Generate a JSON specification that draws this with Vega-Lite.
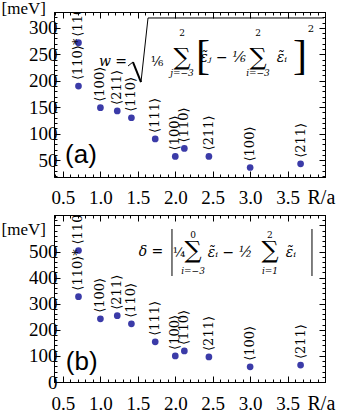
{
  "$schema": "https://vega.github.io/schema/vega-lite/v6.json",
  "padding": {"left": 0, "top": -2, "right": 0, "bottom": 0},
  "background": "white",
  "spacing": -6,
  "datasets": {
    "a": [
      {"R": 0.707, "v": 272, "dir": "⟨110⟩"},
      {"R": 0.707, "v": 190, "dir": "⟨110⟩*"},
      {"R": 1.0, "v": 149, "dir": "⟨100⟩"},
      {"R": 1.225, "v": 143, "dir": "⟨211⟩"},
      {"R": 1.414, "v": 130, "dir": "⟨110⟩"},
      {"R": 1.732, "v": 90, "dir": "⟨111⟩"},
      {"R": 2.0, "v": 57, "dir": "⟨100⟩"},
      {"R": 2.121, "v": 72, "dir": "⟨110⟩"},
      {"R": 2.449, "v": 57, "dir": "⟨211⟩"},
      {"R": 3.0, "v": 36, "dir": "⟨100⟩"},
      {"R": 3.674, "v": 43, "dir": "⟨211⟩"}
    ],
    "b": [
      {"R": 0.707, "v": 504, "dir": "⟨110⟩"},
      {"R": 0.707, "v": 327, "dir": "⟨110⟩*"},
      {"R": 1.0, "v": 242, "dir": "⟨100⟩"},
      {"R": 1.225, "v": 254, "dir": "⟨211⟩"},
      {"R": 1.414, "v": 223, "dir": "⟨110⟩"},
      {"R": 1.732, "v": 154, "dir": "⟨111⟩"},
      {"R": 2.0, "v": 100, "dir": "⟨100⟩"},
      {"R": 2.121, "v": 119, "dir": "⟨110⟩"},
      {"R": 2.449, "v": 96, "dir": "⟨211⟩"},
      {"R": 3.0, "v": 58, "dir": "⟨100⟩"},
      {"R": 3.674, "v": 65, "dir": "⟨211⟩"}
    ],
    "note": [{}]
  },
  "vconcat": [
    {
      "width": 271,
      "height": 165,
      "resolve": {"axis": {"x": "independent", "y": "independent"}},
      "layer": [
        {
          "data": {"name": "a"},
          "mark": {"type": "circle", "size": 45, "opacity": 1, "color": "#3b3ba8"},
          "encoding": {
            "x": {"field": "R", "type": "quantitative", "scale": {"domain": [0.38, 4.0], "nice": false, "zero": false},
              "axis": {"orient": "bottom", "values": [0.4,0.5,0.6,0.7,0.8,0.9,1.0,1.1,1.2,1.3,1.4,1.5,1.6,1.7,1.8,1.9,2.0,2.1,2.2,2.3,2.4,2.5,2.6,2.7,2.8,2.9,3.0,3.1,3.2,3.3,3.4,3.5,3.6,3.7,3.8,3.9,4.0],
                "labelExpr": "abs(datum.value*2 - round(datum.value*2)) < 0.01 && datum.value < 3.95 ? format(datum.value, '.1f') : ''",
                "tickSize": {"condition": {"test": "abs(datum.value*2 - round(datum.value*2)) < 0.01", "value": -6}, "value": -3},
                "labelPadding": 17, "labelOverlap": false, "labelFlush": false, "grid": false,
                "labelFont": "Liberation Serif", "labelFontSize": 19, "labelColor": "black",
                "domainColor": "black", "tickColor": "black",
                "title": "R/a", "titleX": 253, "titleY": 20, "titleAlign": "left", "titleBaseline": "middle", "titleAngle": 0,
                "titleFont": "Liberation Serif", "titleFontSize": 20, "titleFontWeight": "normal", "titleColor": "black"}},
            "y": {"field": "v", "type": "quantitative", "scale": {"domain": [18, 330], "nice": false, "zero": false},
              "axis": {"orient": "left", "values": [20,30,40,50,60,70,80,90,100,110,120,130,140,150,160,170,180,190,200,210,220,230,240,250,260,270,280,290,300,310,320,330],
                "labelExpr": "datum.value % 50 === 0 ? datum.label : ''",
                "tickSize": {"condition": {"test": "datum.value % 50 === 0", "value": -6}, "value": -3},
                "labelPadding": 3, "labelOverlap": false, "labelFlush": false, "grid": false,
                "labelFont": "Liberation Serif", "labelFontSize": 19, "labelColor": "black", "labelBaseline": "middle",
                "domainColor": "black", "tickColor": "black",
                "title": "[meV]", "titleX": -53, "titleY": -4, "titleAlign": "left", "titleBaseline": "middle", "titleAngle": 0,
                "titleFont": "Liberation Serif", "titleFontSize": 17, "titleFontWeight": "normal", "titleColor": "black"}}
          }
        },
        {
          "data": {"name": "a"},
          "mark": {"type": "text", "angle": 270, "align": "left", "baseline": "middle", "dx": 6, "fontStyle": "normal", "fontSize": 13, "clip": true},
          "encoding": {
            "x": {"field": "R", "type": "quantitative",
              "axis": {"orient": "top", "values": [0.4,0.5,0.6,0.7,0.8,0.9,1.0,1.1,1.2,1.3,1.4,1.5,1.6,1.7,1.8,1.9,2.0,2.1,2.2,2.3,2.4,2.5,2.6,2.7,2.8,2.9,3.0,3.1,3.2,3.3,3.4,3.5,3.6,3.7,3.8,3.9,4.0],
                "labels": false, "title": null, "grid": false, "domainColor": "black", "tickColor": "black",
                "tickSize": {"condition": {"test": "abs(datum.value*2 - round(datum.value*2)) < 0.01", "value": -6}, "value": -3}}},
            "y": {"field": "v", "type": "quantitative",
              "axis": {"orient": "right", "values": [20,30,40,50,60,70,80,90,100,110,120,130,140,150,160,170,180,190,200,210,220,230,240,250,260,270,280,290,300,310,320,330],
                "labels": false, "title": null, "grid": false, "domainColor": "black", "tickColor": "black",
                "tickSize": {"condition": {"test": "datum.value % 50 === 0", "value": -6}, "value": -3}}},
            "text": {"field": "dir", "type": "nominal"}
          }
        },
        {"data": {"name": "note"}, "mark": {"type": "text", "font": "Liberation Sans", "fontStyle": "normal", "fontSize": 26},
          "encoding": {"x": {"datum": 0.74, "type": "quantitative", "axis": null}, "y": {"datum": 59, "type": "quantitative", "axis": null}, "text": {"value": "(a)"}}},
        {"data": {"name": "note"}, "mark": {"type": "text", "fontSize": 14},
          "encoding": {"x": {"datum": 1.168, "type": "quantitative", "axis": null}, "y": {"datum": 235.4, "type": "quantitative", "axis": null}, "text": {"value": "w ="}}},
        {"data": {"name": "note"}, "mark": {"type": "rule", "strokeWidth": 1},
          "encoding": {"x": {"datum": 1.369, "type": "quantitative", "axis": null}, "y": {"datum": 227.9, "type": "quantitative", "axis": null}, "x2": {"datum": 1.435}, "y2": {"datum": 235.4}}},
        {"data": {"name": "note"}, "mark": {"type": "rule", "strokeWidth": 2},
          "encoding": {"x": {"datum": 1.435, "type": "quantitative", "axis": null}, "y": {"datum": 235.4, "type": "quantitative", "axis": null}, "x2": {"datum": 1.542}, "y2": {"datum": 197.6}}},
        {"data": {"name": "note"}, "mark": {"type": "rule", "strokeWidth": 1},
          "encoding": {"x": {"datum": 1.542, "type": "quantitative", "axis": null}, "y": {"datum": 197.6, "type": "quantitative", "axis": null}, "x2": {"datum": 1.636}, "y2": {"datum": 318.7}}},
        {"data": {"name": "note"}, "mark": {"type": "rule", "strokeWidth": 1},
          "encoding": {"x": {"datum": 1.636, "type": "quantitative", "axis": null}, "y": {"datum": 318.7, "type": "quantitative", "axis": null}, "x2": {"datum": 3.987}, "y2": {"datum": 318.7}}},
        {"data": {"name": "note"}, "mark": {"type": "text", "fontSize": 13, "fontStyle": "normal"},
          "encoding": {"x": {"datum": 1.756, "type": "quantitative", "axis": null}, "y": {"datum": 235.4, "type": "quantitative", "axis": null}, "text": {"value": "⅙"}}},
        {"data": {"name": "note"}, "mark": {"type": "text", "fontSize": 24, "fontStyle": "normal"},
          "encoding": {"x": {"datum": 2.09, "type": "quantitative", "axis": null}, "y": {"datum": 243, "type": "quantitative", "axis": null}, "text": {"value": "∑"}}},
        {"data": {"name": "note"}, "mark": {"type": "text", "fontSize": 9, "fontStyle": "normal"},
          "encoding": {"x": {"datum": 2.09, "type": "quantitative", "axis": null}, "y": {"datum": 290.3, "type": "quantitative", "axis": null}, "text": {"value": "2"}}},
        {"data": {"name": "note"}, "mark": {"type": "text", "fontSize": 9},
          "encoding": {"x": {"datum": 2.09, "type": "quantitative", "axis": null}, "y": {"datum": 214.6, "type": "quantitative", "axis": null}, "text": {"value": "j=−3"}}},
        {"data": {"name": "note"}, "mark": {"type": "text", "fontSize": 42, "fontStyle": "normal", "font": "Liberation Serif"},
          "encoding": {"x": {"datum": 2.37, "type": "quantitative", "axis": null}, "y": {"datum": 246.8, "type": "quantitative", "axis": null}, "text": {"value": "["}}},
        {"data": {"name": "note"}, "mark": {"type": "text", "fontSize": 14},
          "encoding": {"x": {"datum": 2.638, "type": "quantitative", "axis": null}, "y": {"datum": 243, "type": "quantitative", "axis": null}, "text": {"value": "ε̃ⱼ − ⅙"}}},
        {"data": {"name": "note"}, "mark": {"type": "text", "fontSize": 24, "fontStyle": "normal"},
          "encoding": {"x": {"datum": 3.105, "type": "quantitative", "axis": null}, "y": {"datum": 243, "type": "quantitative", "axis": null}, "text": {"value": "∑"}}},
        {"data": {"name": "note"}, "mark": {"type": "text", "fontSize": 9, "fontStyle": "normal"},
          "encoding": {"x": {"datum": 3.105, "type": "quantitative", "axis": null}, "y": {"datum": 290.3, "type": "quantitative", "axis": null}, "text": {"value": "2"}}},
        {"data": {"name": "note"}, "mark": {"type": "text", "fontSize": 9},
          "encoding": {"x": {"datum": 3.105, "type": "quantitative", "axis": null}, "y": {"datum": 214.6, "type": "quantitative", "axis": null}, "text": {"value": "i=−3"}}},
        {"data": {"name": "note"}, "mark": {"type": "text", "fontSize": 14},
          "encoding": {"x": {"datum": 3.426, "type": "quantitative", "axis": null}, "y": {"datum": 243, "type": "quantitative", "axis": null}, "text": {"value": "ε̃ᵢ"}}},
        {"data": {"name": "note"}, "mark": {"type": "text", "fontSize": 42, "fontStyle": "normal", "font": "Liberation Serif"},
          "encoding": {"x": {"datum": 3.666, "type": "quantitative", "axis": null}, "y": {"datum": 246.8, "type": "quantitative", "axis": null}, "text": {"value": "]"}}},
        {"data": {"name": "note"}, "mark": {"type": "text", "fontSize": 10, "fontStyle": "normal"},
          "encoding": {"x": {"datum": 3.813, "type": "quantitative", "axis": null}, "y": {"datum": 297.9, "type": "quantitative", "axis": null}, "text": {"value": "2"}}}
      ]
    },
    {
      "width": 271,
      "height": 167,
      "resolve": {"axis": {"x": "independent", "y": "independent"}},
      "layer": [
        {
          "data": {"name": "b"},
          "mark": {"type": "circle", "size": 45, "opacity": 1, "color": "#3b3ba8"},
          "encoding": {
            "x": {"field": "R", "type": "quantitative", "scale": {"domain": [0.38, 4.0], "nice": false, "zero": false},
              "axis": {"orient": "bottom", "values": [0.4,0.5,0.6,0.7,0.8,0.9,1.0,1.1,1.2,1.3,1.4,1.5,1.6,1.7,1.8,1.9,2.0,2.1,2.2,2.3,2.4,2.5,2.6,2.7,2.8,2.9,3.0,3.1,3.2,3.3,3.4,3.5,3.6,3.7,3.8,3.9,4.0],
                "labelExpr": "abs(datum.value*2 - round(datum.value*2)) < 0.01 && datum.value < 3.95 ? format(datum.value, '.1f') : ''",
                "tickSize": {"condition": {"test": "abs(datum.value*2 - round(datum.value*2)) < 0.01", "value": -6}, "value": -3},
                "labelPadding": 18, "labelOverlap": false, "labelFlush": false, "grid": false,
                "labelFont": "Liberation Serif", "labelFontSize": 19, "labelColor": "black",
                "domainColor": "black", "tickColor": "black",
                "title": "R/a", "titleX": 253, "titleY": 21, "titleAlign": "left", "titleBaseline": "middle", "titleAngle": 0,
                "titleFont": "Liberation Serif", "titleFontSize": 20, "titleFontWeight": "normal", "titleColor": "black"}},
            "y": {"field": "v", "type": "quantitative", "scale": {"domain": [0, 640], "nice": false, "zero": false},
              "axis": {"orient": "left", "values": [0,20,40,60,80,100,120,140,160,180,200,220,240,260,280,300,320,340,360,380,400,420,440,460,480,500,520,540,560,580,600,620,640],
                "labelExpr": "datum.value % 100 === 0 && datum.value <= 500 ? datum.label : ''",
                "tickSize": {"condition": {"test": "datum.value % 100 === 0", "value": -6}, "value": -3},
                "labelPadding": 3, "labelOverlap": false, "labelFlush": false, "grid": false,
                "labelFont": "Liberation Serif", "labelFontSize": 19, "labelColor": "black", "labelBaseline": "middle",
                "domainColor": "black", "tickColor": "black",
                "title": "[meV]", "titleX": -53, "titleY": 14, "titleAlign": "left", "titleBaseline": "middle", "titleAngle": 0,
                "titleFont": "Liberation Serif", "titleFontSize": 17, "titleFontWeight": "normal", "titleColor": "black"}}
          }
        },
        {
          "data": {"name": "b"},
          "mark": {"type": "text", "angle": 270, "align": "left", "baseline": "middle", "dx": 6, "fontStyle": "normal", "fontSize": 13, "clip": true},
          "encoding": {
            "x": {"field": "R", "type": "quantitative",
              "axis": {"orient": "top", "values": [0.4,0.5,0.6,0.7,0.8,0.9,1.0,1.1,1.2,1.3,1.4,1.5,1.6,1.7,1.8,1.9,2.0,2.1,2.2,2.3,2.4,2.5,2.6,2.7,2.8,2.9,3.0,3.1,3.2,3.3,3.4,3.5,3.6,3.7,3.8,3.9,4.0],
                "labels": false, "title": null, "grid": false, "domainColor": "black", "tickColor": "black",
                "tickSize": {"condition": {"test": "abs(datum.value*2 - round(datum.value*2)) < 0.01", "value": -6}, "value": -3}}},
            "y": {"field": "v", "type": "quantitative",
              "axis": {"orient": "right", "values": [0,20,40,60,80,100,120,140,160,180,200,220,240,260,280,300,320,340,360,380,400,420,440,460,480,500,520,540,560,580,600,620,640],
                "labels": false, "title": null, "grid": false, "domainColor": "black", "tickColor": "black",
                "tickSize": {"condition": {"test": "datum.value % 100 === 0", "value": -6}, "value": -3}}},
            "text": {"field": "dir", "type": "nominal"}
          }
        },
        {"data": {"name": "note"}, "mark": {"type": "text", "font": "Liberation Sans", "fontStyle": "normal", "fontSize": 26},
          "encoding": {"x": {"datum": 0.75, "type": "quantitative", "axis": null}, "y": {"datum": 77, "type": "quantitative", "axis": null}, "text": {"value": "(b)"}}},
        {"data": {"name": "note"}, "mark": {"type": "text", "fontSize": 14},
          "encoding": {"x": {"datum": 1.676, "type": "quantitative", "axis": null}, "y": {"datum": 498.2, "type": "quantitative", "axis": null}, "text": {"value": "δ ="}}},
        {"data": {"name": "note"}, "mark": {"type": "rule", "strokeWidth": 1},
          "encoding": {"x": {"datum": 1.956, "type": "quantitative", "axis": null}, "y": {"datum": 586.3, "type": "quantitative", "axis": null}, "y2": {"datum": 406.2}}},
        {"data": {"name": "note"}, "mark": {"type": "rule", "strokeWidth": 1},
          "encoding": {"x": {"datum": 3.826, "type": "quantitative", "axis": null}, "y": {"datum": 586.3, "type": "quantitative", "axis": null}, "y2": {"datum": 406.2}}},
        {"data": {"name": "note"}, "mark": {"type": "text", "fontSize": 13, "fontStyle": "normal"},
          "encoding": {"x": {"datum": 2.05, "type": "quantitative", "axis": null}, "y": {"datum": 494.4, "type": "quantitative", "axis": null}, "text": {"value": "¼"}}},
        {"data": {"name": "note"}, "mark": {"type": "text", "fontSize": 24, "fontStyle": "normal"},
          "encoding": {"x": {"datum": 2.237, "type": "quantitative", "axis": null}, "y": {"datum": 502, "type": "quantitative", "axis": null}, "text": {"value": "∑"}}},
        {"data": {"name": "note"}, "mark": {"type": "text", "fontSize": 9, "fontStyle": "normal"},
          "encoding": {"x": {"datum": 2.237, "type": "quantitative", "axis": null}, "y": {"datum": 563.3, "type": "quantitative", "axis": null}, "text": {"value": "0"}}},
        {"data": {"name": "note"}, "mark": {"type": "text", "fontSize": 9},
          "encoding": {"x": {"datum": 2.237, "type": "quantitative", "axis": null}, "y": {"datum": 425.4, "type": "quantitative", "axis": null}, "text": {"value": "i=−3"}}},
        {"data": {"name": "note"}, "mark": {"type": "text", "fontSize": 14},
          "encoding": {"x": {"datum": 2.731, "type": "quantitative", "axis": null}, "y": {"datum": 494.4, "type": "quantitative", "axis": null}, "text": {"value": "ε̃ᵢ − ½"}}},
        {"data": {"name": "note"}, "mark": {"type": "text", "fontSize": 24, "fontStyle": "normal"},
          "encoding": {"x": {"datum": 3.265, "type": "quantitative", "axis": null}, "y": {"datum": 502, "type": "quantitative", "axis": null}, "text": {"value": "∑"}}},
        {"data": {"name": "note"}, "mark": {"type": "text", "fontSize": 9, "fontStyle": "normal"},
          "encoding": {"x": {"datum": 3.265, "type": "quantitative", "axis": null}, "y": {"datum": 563.3, "type": "quantitative", "axis": null}, "text": {"value": "2"}}},
        {"data": {"name": "note"}, "mark": {"type": "text", "fontSize": 9},
          "encoding": {"x": {"datum": 3.265, "type": "quantitative", "axis": null}, "y": {"datum": 425.4, "type": "quantitative", "axis": null}, "text": {"value": "i=1"}}},
        {"data": {"name": "note"}, "mark": {"type": "text", "fontSize": 14},
          "encoding": {"x": {"datum": 3.546, "type": "quantitative", "axis": null}, "y": {"datum": 494.4, "type": "quantitative", "axis": null}, "text": {"value": "ε̃ᵢ"}}}
      ]
    }
  ],
  "config": {
    "view": {"stroke": "black", "strokeWidth": 1},
    "axis": {"domainWidth": 1, "tickWidth": 1},
    "text": {"font": "DejaVu Serif", "fontStyle": "italic", "align": "center", "baseline": "middle", "color": "black"},
    "rule": {"color": "black"}
  }
}
